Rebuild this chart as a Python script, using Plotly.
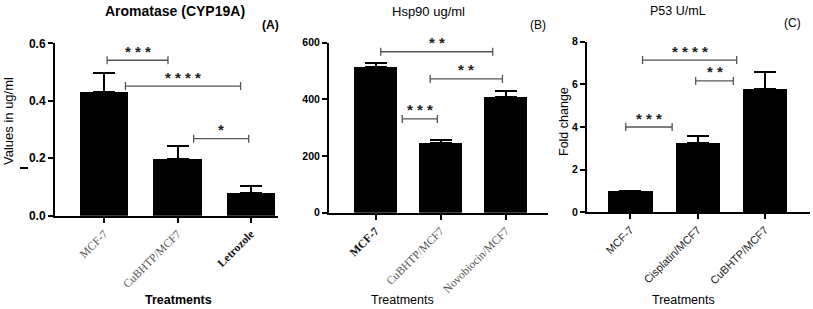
import plotly.graph_objects as go

W, H = 813, 309

# ---------------- data ----------------
catsA = ["MCF-7", "CuBHTP/MCF7", "Letrozole"]
valsA = [0.43, 0.196, 0.078]
errA = [0.068, 0.047, 0.024]

catsB = ["MCF-7", "CuBHTP/MCF7", "Novobiocin/MCF7"]
valsB = [513, 245, 408]
errB = [16, 10, 22]

catsC = ["MCF-7", "Cisplatin/MCF7", "CuBHTP/MCF7"]
valsC = [1.0, 3.23, 5.8]
errC = [0.0, 0.36, 0.8]

# significance brackets: (start category pos, end category pos, y, label)
sigA = [(0.04, 0.87, 0.541, "***"), (0.29, 1.86, 0.451, "****"), (1.22, 1.97, 0.268, "*")]
sigB = [(0.08, 1.80, 568, "**"), (0.84, 1.95, 472, "**"), (0.41, 0.95, 331, "***")]
sigC = [(0.18, 1.58, 7.14, "****"), (0.97, 1.53, 6.16, "**"), (-0.07, 0.62, 4.0, "***")]

ticksA = ["MCF-7", "CuBHTP/MCF7", "<span style='color:#111'><b>Letrozole</b></span>"]
ticksB = ["<span style='color:#111'><b>MCF-7</b></span>", "CuBHTP/MCF7", "Novobiocin/MCF7"]
ticksC = catsC

# ---------------- layout helpers ----------------
def px_x(p):
    return p / W

def px_y(p):
    return 1 - p / H

fig = go.Figure()
SANS = "Liberation Sans, Arial, sans-serif"
SERIF = "Liberation Serif, Times New Roman, serif"

panels = [
    dict(cats=catsA, vals=valsA, err=errA, sig=sigA, ticks=ticksA, n="",
         xdom=[px_x(55), px_x(278)], ydom=[px_y(215.7), px_y(43.3)],
         xr=[-0.67, 2.37], yr=[0, 0.6], dtick=0.2, fmt=".1f", ysize=12,
         tfont=dict(family=SERIF, size=11.5, color="#555")),
    dict(cats=catsB, vals=valsB, err=errB, sig=sigB, ticks=ticksB, n="2",
         xdom=[px_x(329), px_x(548)], ydom=[px_y(212.7), px_y(42.7)],
         xr=[-0.715, 2.65], yr=[0, 600], dtick=200, fmt="d", ysize=10.5,
         tfont=dict(family=SERIF, size=11.5, color="#555")),
    dict(cats=catsC, vals=valsC, err=errC, sig=sigC, ticks=ticksC, n="3",
         xdom=[px_x(587), px_x(810)], ydom=[px_y(212.3), px_y(41.7)],
         xr=[-0.646, 2.67], yr=[0, 8], dtick=2, fmt="d", ysize=10.5,
         tfont=dict(family=SANS, size=11, color="#222")),
]

shapes = []
annotations = []

for p in panels:
    xs = list(range(len(p["cats"])))
    xa = "x" + p["n"]
    ya = "y" + p["n"]
    fig.add_trace(go.Bar(
        x=xs, y=p["vals"], width=0.66,
        marker=dict(color="black", line=dict(width=0)),
        error_y=dict(type="data", symmetric=False, array=p["err"],
                     arrayminus=[0] * len(p["err"]),
                     color="black", thickness=2, width=11),
        xaxis=xa, yaxis=ya, showlegend=False, hoverinfo="skip",
    ))
    fig.layout["xaxis" + p["n"]] = dict(
        domain=p["xdom"], range=p["xr"], anchor=ya,
        tickvals=xs, ticktext=p["ticks"], tickangle=-45,
        showline=True, linecolor="black", linewidth=2,
        ticks="outside", ticklen=5, tickwidth=2, tickcolor="black",
        showgrid=False, zeroline=False, tickfont=p["tfont"], fixedrange=True,
        automargin=False,
    )
    fig.layout["yaxis" + p["n"]] = dict(
        domain=p["ydom"], range=p["yr"], anchor=xa,
        dtick=p["dtick"], tick0=0, tickformat=p["fmt"],
        showline=True, linecolor="black", linewidth=2,
        ticks="outside", ticklen=5, tickwidth=2, tickcolor="black",
        showgrid=False, zeroline=False,
        tickfont=dict(family=SANS, size=p["ysize"], color="black", weight="bold"),
        fixedrange=True, automargin=False,
    )
    for (x0, x1, y, lab) in p["sig"]:
        shapes.append(dict(type="line", xref=xa, yref=ya, x0=x0, x1=x1, y0=y, y1=y,
                           line=dict(color="#555", width=1.3)))
        for xe in (x0, x1):
            shapes.append(dict(type="line", xref=xa, yref=ya, x0=xe, x1=xe,
                               ysizemode="pixel", yanchor=y, y0=-4, y1=4,
                               line=dict(color="#555", width=1.3)))
        annotations.append(dict(xref=xa, yref=ya, x=(x0 + x1) / 2, y=y,
                                text=" ".join(lab), showarrow=False,
                                xanchor="center", yanchor="middle", yshift=9,
                                font=dict(family=SANS, size=15, color="#222", weight="bold")))


def txt(x, y, text, size=12, bold=False, angle=0, color="black"):
    annotations.append(dict(xref="paper", yref="paper", x=px_x(x), y=px_y(y), text=text,
                            showarrow=False, xanchor="center", yanchor="middle", textangle=angle,
                            font=dict(family=SANS, size=size, color=color,
                                      weight="bold" if bold else "normal")))

# titles
txt(175, 11, "Aromatase (CYP19A)", 14, bold=True)
txt(428, 11, "Hsp90 ug/ml", 13)
txt(678, 11, "P53 U/mL", 12.5)
txt(270, 25, "(A)", 12, bold=True)
txt(538, 25, "(B)", 12)
txt(792, 23, "(C)", 12)
# axis titles
txt(178, 300, "Treatments", 12.5, bold=True)
txt(402, 300, "Treatments", 12.5)
txt(683, 300, "Treatments", 12.5)
txt(8, 121, "Values in ug/ml", 13, angle=-90)
txt(564, 122, "Fold change", 12.5, angle=-90)

# small stray mark under the y title of panel A (present in the source figure)
shapes.append(dict(type="line", xref="paper", yref="paper",
                   x0=px_x(20), x1=px_x(28), y0=px_y(168), y1=px_y(168),
                   line=dict(color="black", width=2)))

fig.update_layout(
    width=W, height=H, margin=dict(l=0, r=0, t=0, b=0, pad=0, autoexpand=False),
    paper_bgcolor="white", plot_bgcolor="white",
    shapes=shapes, annotations=annotations, bargap=0,
)

fig.write_html("out.html",
               config={"displayModeBar": False, "staticPlot": True},
               post_script="document.body.style.margin='0px';document.body.style.overflow='hidden';")
